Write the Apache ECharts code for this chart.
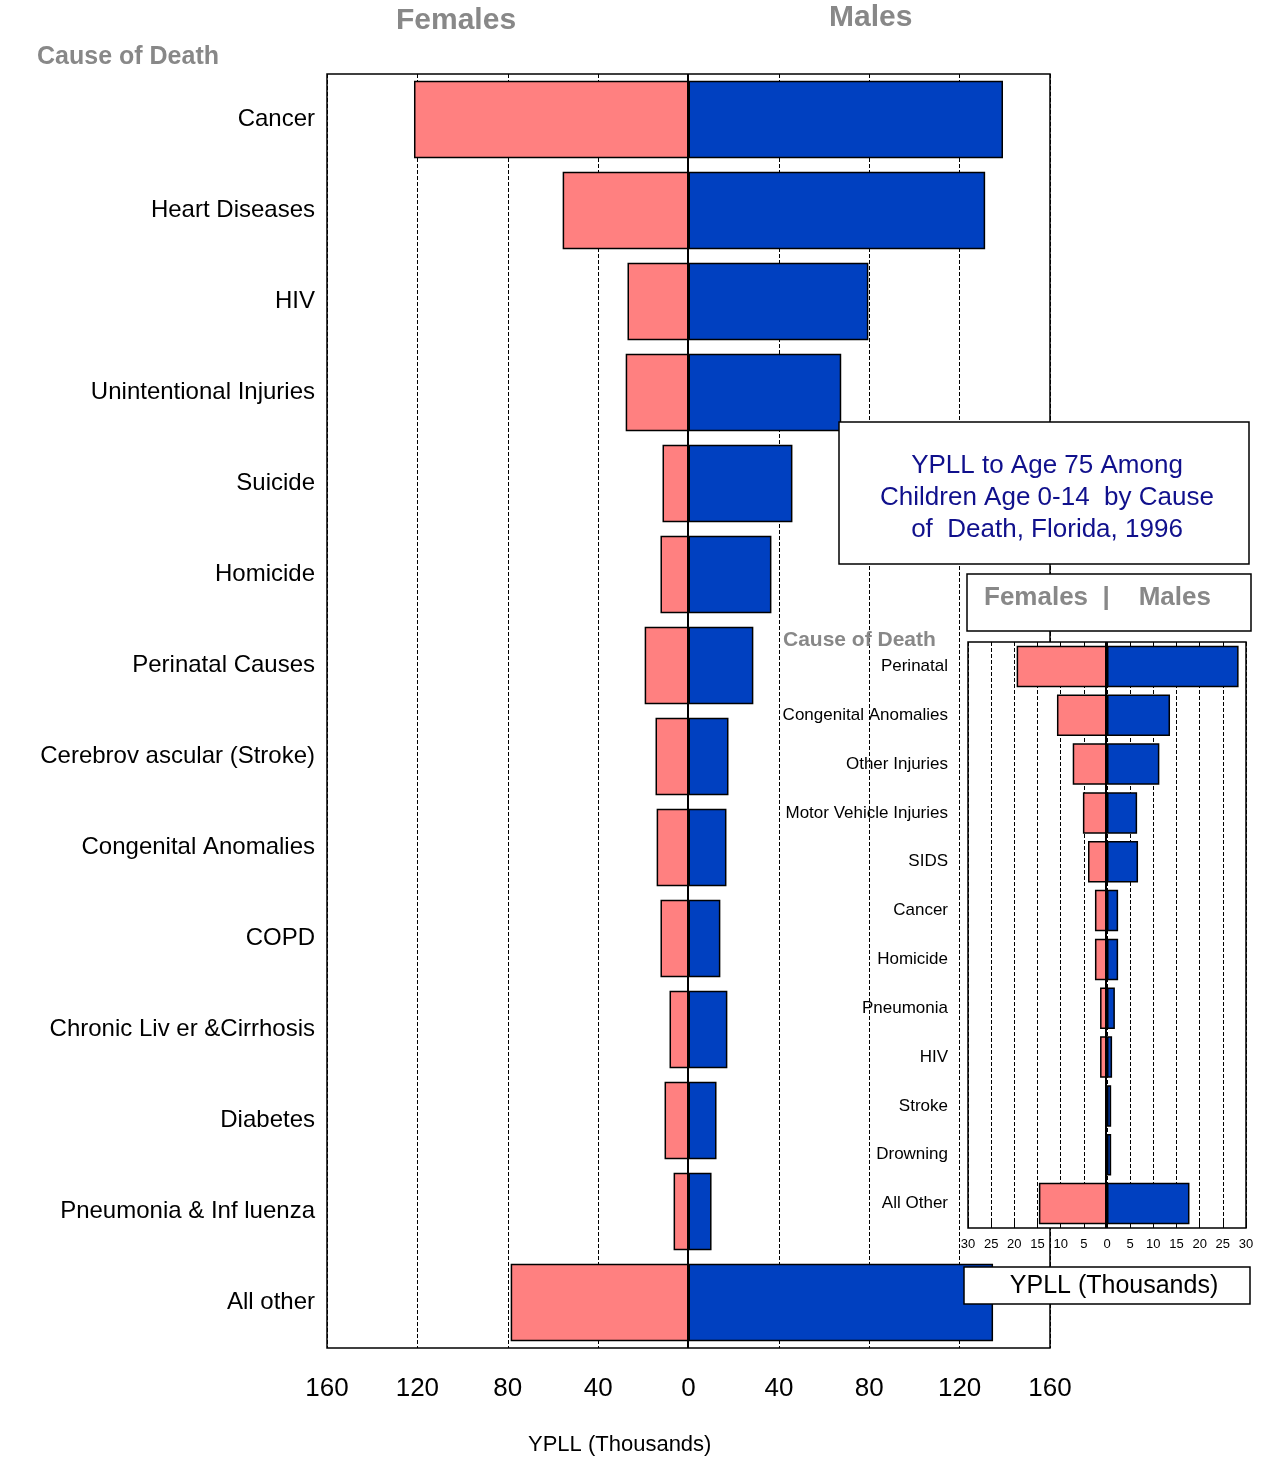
<!DOCTYPE html>
<html><head><meta charset="utf-8">
<script src="https://cdn.jsdelivr.net/npm/echarts@6/dist/echarts.min.js"></script>
<style>html,body{margin:0;background:#fff}#c{width:1262px;height:1462px}</style>
</head><body><div id="c"></div>
<script>
// main chart data (YPLL thousands)
let causes = ['Cancer', 'Heart Diseases', 'HIV', 'Unintentional Injuries', 'Suicide', 'Homicide',
  'Perinatal Causes', 'Cerebrov ascular (Stroke)', 'Congenital Anomalies', 'COPD',
  'Chronic Liv er &Cirrhosis', 'Diabetes', 'Pneumonia & Inf luenza', 'All other'];
let females = [121.5, 55.7, 27, 27.8, 11.5, 12.4, 19.4, 14.6, 14.1, 12.4, 8.4, 10.6, 6.6, 78.7];
let males = [139.2, 131.3, 79.6, 67.6, 46, 36.7, 28.7, 17.7, 16.8, 14.1, 17.2, 12.4, 10.2, 134.8];

// inset: children 0-14
let kidCauses = ['Perinatal', 'Congenital Anomalies', 'Other Injuries', 'Motor Vehicle Injuries', 'SIDS',
  'Cancer', 'Homicide', 'Pneumonia', 'HIV', 'Stroke', 'Drowning', 'All Other'];
let kidFemales = [19.5, 10.8, 7.4, 5.2, 4.1, 2.6, 2.6, 1.5, 1.5, 0.4, 0.4, 14.7];
let kidMales = [28.4, 13.6, 11.3, 6.5, 6.7, 2.4, 2.4, 1.7, 1.1, 0.9, 0.9, 17.8];

let pink = '#FF8080', blue = '#0040C0', gray = '#888';
let neg = a => a.map(v => -v);
let barStyle = c => ({color: c, borderColor: '#000', borderWidth: 1.5});

let chart = echarts.init(document.getElementById('c'));
chart.setOption({
  animation: false,
  grid: [
    {left: 327, top: 74, width: 723, height: 1274, show: true, borderColor: '#000', borderWidth: 1.5, backgroundColor: '#fff'},
    {left: 968, top: 642, width: 278, height: 586, show: true, borderColor: '#000', borderWidth: 1.5, backgroundColor: '#fff', z: 5}
  ],
  xAxis: [
    {gridIndex: 0, type: 'value', min: -160, max: 160, interval: 40,
      axisLine: {show: false}, axisTick: {show: false},
      axisLabel: {formatter: v => Math.abs(v), fontSize: 26, color: '#000', margin: 28, fontFamily: 'Arial'},
      splitLine: {lineStyle: {color: '#000', type: 'dashed', width: 1}}},
    {gridIndex: 1, type: 'value', min: -30, max: 30, interval: 5, z: 6,
      axisLine: {show: false}, axisTick: {show: true, inside: true, length: 8, lineStyle: {color: '#000'}},
      axisLabel: {formatter: v => Math.abs(v), fontSize: 13, color: '#000', margin: 10, fontFamily: 'Arial'},
      splitLine: {lineStyle: {color: '#000', type: 'dashed', width: 1}}}
  ],
  yAxis: [
    {gridIndex: 0, type: 'category', data: causes, inverse: true,
      axisLine: {show: false}, axisTick: {show: false},
      axisLabel: {fontSize: 24, color: '#000', margin: 12, fontFamily: 'Arial'}},
    {gridIndex: 1, type: 'category', data: kidCauses, inverse: true, z: 6,
      axisLine: {show: false}, axisTick: {show: false},
      axisLabel: {fontSize: 17, color: '#000', margin: 20, fontFamily: 'Arial'}}
  ],
  series: [
    {type: 'bar', xAxisIndex: 0, yAxisIndex: 0, stack: 'm', data: neg(females), barWidth: '85%', itemStyle: barStyle(pink)},
    {type: 'bar', xAxisIndex: 0, yAxisIndex: 0, stack: 'm', data: males, barWidth: '85%', itemStyle: barStyle(blue)},
    {type: 'bar', xAxisIndex: 1, yAxisIndex: 1, stack: 'k', data: neg(kidFemales), barWidth: '85%', z: 10, itemStyle: barStyle(pink)},
    {type: 'bar', xAxisIndex: 1, yAxisIndex: 1, stack: 'k', data: kidMales, barWidth: '85%', z: 10, itemStyle: barStyle(blue)}
  ],
  graphic: [
    {type: 'line', shape: {x1: 688, y1: 74, x2: 688, y2: 1348}, style: {stroke: '#000', lineWidth: 2}, z: 20},
    {type: 'line', shape: {x1: 1106, y1: 642, x2: 1106, y2: 1228}, style: {stroke: '#000', lineWidth: 2}, z: 20},
    {type: 'text', left: 396, top: 6, style: {text: 'Females', fontSize: 30, fontWeight: 'bold', fill: gray, fontFamily: 'Liberation Sans Narrow, Arial'}},
    {type: 'text', left: 829, top: 3, style: {text: 'Males', fontSize: 30, fontWeight: 'bold', fill: gray, fontFamily: 'Liberation Sans Narrow, Arial'}},
    {type: 'text', left: 37, top: 45, style: {text: 'Cause of Death', fontSize: 25, fontWeight: 'bold', fill: gray, fontFamily: 'Arial'}},
    {type: 'text', left: 528, top: 1434, style: {text: 'YPLL (Thousands)', fontSize: 22, fill: '#000', fontFamily: 'Arial'}},
    {type: 'rect', z: 30, shape: {x: 839, y: 422, width: 410, height: 142}, style: {fill: '#fff', stroke: '#000', lineWidth: 1.5}},
    {type: 'text', z: 31, x: 1047, y: 498, style: {text: 'YPLL to Age 75 Among\nChildren Age 0-14  by Cause\nof  Death, Florida, 1996',
      fontSize: 26, lineHeight: 32, fill: '#10108C', align: 'center', verticalAlign: 'middle', fontFamily: 'Arial'}},
    {type: 'rect', z: 30, shape: {x: 967, y: 574, width: 284, height: 57}, style: {fill: '#fff', stroke: '#000', lineWidth: 1.5}},
    {type: 'text', z: 31, x: 984, y: 598, style: {text: 'Females  |    Males', fontSize: 26, fontWeight: 'bold', fill: gray, verticalAlign: 'middle', fontFamily: 'Arial'}},
    {type: 'text', z: 31, x: 783, y: 640, style: {text: 'Cause of Death', fontSize: 21, fontWeight: 'bold', fill: gray, verticalAlign: 'middle', fontFamily: 'Arial'}},
    {type: 'rect', z: 30, shape: {x: 964, y: 1267, width: 286, height: 37}, style: {fill: '#fff', stroke: '#000', lineWidth: 1.5}},
    {type: 'text', z: 31, x: 1114, y: 1286, style: {text: 'YPLL (Thousands)', fontSize: 25, fill: '#000', align: 'center', verticalAlign: 'middle', fontFamily: 'Arial'}}
  ]
});
</script></body></html>
